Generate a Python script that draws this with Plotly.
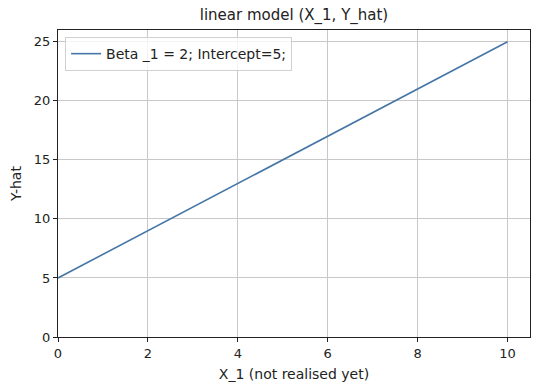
import plotly.graph_objects as go

x_vals = [0, 10]
y_vals = [5, 25]
series_name = "Beta _1 = 2; Intercept=5;"
x_ticks = [0, 2, 4, 6, 8, 10]
y_ticks = [0, 5, 10, 15, 20, 25]

fig = go.Figure()
fig.add_trace(go.Scatter(x=x_vals, y=y_vals, mode="lines", name=series_name,
                         line=dict(color="#4676a6", width=1.6)))

axis_common = dict(showline=True, linecolor="#222", linewidth=1, mirror=True,
                   showgrid=True, gridcolor="#c8c8c8", gridwidth=1,
                   ticks="outside", ticklen=4, tickcolor="#222", zeroline=False,
                   automargin=False,
                   tickfont=dict(size=13, color="#222"))

fig.update_layout(
    width=540, height=391,
    margin=dict(l=58, r=10, t=30, b=54),
    paper_bgcolor="white", plot_bgcolor="white",
    font=dict(family="DejaVu Sans", color="#222"),
    title=dict(text="linear model (X_1, Y_hat)", x=294 / 540, xanchor="center",
               y=1 - 15 / 391, yanchor="middle", font=dict(size=15)),
    xaxis=dict(range=[0, 10.5], tickvals=x_ticks,
               title=dict(text="X_1 (not realised yet)", font=dict(size=14), standoff=9),
               **axis_common),
    yaxis=dict(range=[0, 26], tickvals=y_ticks,
               title=dict(text="Y-hat", font=dict(size=14), standoff=8),
               **axis_common),
    legend=dict(x=0.015, y=0.977, xanchor="left", yanchor="top",
                bordercolor="#d0d0d0", borderwidth=1, bgcolor="rgba(255,255,255,0.8)",
                font=dict(size=14), itemwidth=30),
    showlegend=True,
)

fig.write_html("out.html", config={"displayModeBar": False},
               post_script="document.body.style.margin='0';")
